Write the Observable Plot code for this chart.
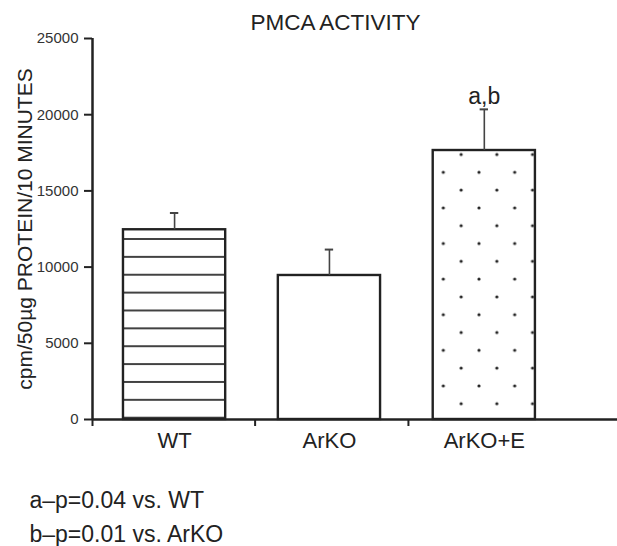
<!DOCTYPE html>
<html><head><meta charset="utf-8">
<script src="https://cdn.jsdelivr.net/npm/d3@7"></script>
<script src="https://cdn.jsdelivr.net/npm/@observablehq/plot@0.6"></script>
<style>
html,body{margin:0;padding:0;background:#fff;}
#chart svg{display:block;}
</style>
</head><body><div id="chart"></div>
<script>
// ---- data ----
const categories = ["WT", "ArKO", "ArKO+E"];
const means = [12450, 9450, 17650];
const errorTops = [13550, 11150, 20350];
const significance = ["", "", "a,b"];
const yTicks = [0, 5000, 10000, 15000, 20000, 25000];
const categoryPositions = [0, 1, 2];
const boundaryTicks = [-0.53, 0.52, 1.51];
const title = "PMCA ACTIVITY";
const yLabel = "cpm/50µg PROTEIN/10 MINUTES";
const footnotes = ["a–p=0.04 vs. WT", "b–p=0.01 vs. ArKO"];
const barFills = ["url(#hlines)", "#ffffff", "url(#dots)"];

const data = categories.map((c, i) => ({
  i: categoryPositions[i], category: c, mean: means[i], err: errorTops[i],
  label: significance[i], fill: barFills[i]
}));

const half = 0.33, cap = 0.027;
const ink = "#222";
const font = "'Liberation Sans', Arial, Helvetica, sans-serif";

const chart = Plot.plot({
  width: 617, height: 546,
  marginTop: 38, marginBottom: 127, marginLeft: 92, marginRight: 0,
  style: {fontFamily: font, color: ink, background: "#fff"},
  x: {domain: [-0.53, 2.86], axis: null, label: null},
  y: {domain: [0, 25000], axis: null, label: null},
  color: {type: "identity"},
  marks: [
    Plot.rect(data, {x1: d => d.i - half, x2: d => d.i + half, y1: 0, y2: "mean",
      fill: "fill", stroke: ink, strokeWidth: 2.4}),
    Plot.ruleX(data, {x: "i", y1: "mean", y2: "err", stroke: "#444", strokeWidth: 1.6}),
    Plot.ruleY(data, {x1: d => d.i - cap, x2: d => d.i + cap, y: "err", stroke: "#444", strokeWidth: 2}),
    Plot.text(data.filter(d => d.label), {x: "i", y: "err", text: "label", dy: -13,
      fontSize: 23, fill: ink, lineAnchor: "middle"}),
    // axes
    Plot.ruleX([boundaryTicks[0]], {x: d => d, y1: 0, y2: 25000, stroke: ink, strokeWidth: 2.5}),
    Plot.ruleY([0], {stroke: ink, strokeWidth: 2.5}),
    Plot.axisY({ticks: yTicks, tickSize: 8, tickPadding: 6, fontSize: 15, label: null,
      stroke: ink, strokeWidth: 2, fill: "#333", tickFormat: d => String(d)}),
    Plot.axisX({ticks: boundaryTicks, tickSize: 7, stroke: ink, strokeWidth: 2, label: null,
      tickFormat: () => ""}),
    Plot.axisX({ticks: categoryPositions, tickSize: 0, tickPadding: 13, fontSize: 22, label: null,
      fill: ink, tickFormat: i => categories[i]}),
    // texts
    Plot.text([title], {text: d => d, frameAnchor: "top", dx: -19.5, dy: -16,
      fontSize: 22.5, fill: ink, lineAnchor: "middle", textAnchor: "middle"}),
    Plot.text([yLabel], {text: d => d, frameAnchor: "left", dx: -67, rotate: -90,
      fontSize: 21, fill: ink, lineAnchor: "middle", textAnchor: "middle"}),
    Plot.text([footnotes[0]], {text: d => d, frameAnchor: "bottom-left",
      textAnchor: "start", dx: -63, dy: 81, fontSize: 23, fill: ink, lineAnchor: "middle"}),
    Plot.text([footnotes[1]], {text: d => d, frameAnchor: "bottom-left",
      textAnchor: "start", dx: -63, dy: 115, fontSize: 23, fill: ink, lineAnchor: "middle"})
  ]
});

// fill patterns (styles)
const svg = d3.select(chart);
const defs = svg.insert("defs", ":first-child");
const lineGap = 17.87;
const hl = defs.append("pattern").attr("id", "hlines").attr("patternUnits", "userSpaceOnUse")
  .attr("x", 0).attr("y", 239 - lineGap / 2).attr("width", 20).attr("height", lineGap);
hl.append("rect").attr("width", 20).attr("height", lineGap).attr("fill", "#fff");
hl.append("line").attr("x1", 0).attr("x2", 20).attr("y1", lineGap / 2).attr("y2", lineGap / 2)
  .attr("stroke", ink).attr("stroke-width", 1.7);

const dw = 35.7, dh = 35.6;
const dp = defs.append("pattern").attr("id", "dots").attr("patternUnits", "userSpaceOnUse")
  .attr("x", 443.3 - dw / 4).attr("y", 172.3 - dh / 4).attr("width", dw).attr("height", dh);
dp.append("rect").attr("width", dw).attr("height", dh).attr("fill", "#fff");
dp.append("circle").attr("cx", dw / 4).attr("cy", dh / 4).attr("r", 1.6).attr("fill", ink);
dp.append("circle").attr("cx", 3 * dw / 4).attr("cy", 3 * dh / 4).attr("r", 1.6).attr("fill", ink);

document.getElementById("chart").appendChild(chart);
</script>
</body></html>
